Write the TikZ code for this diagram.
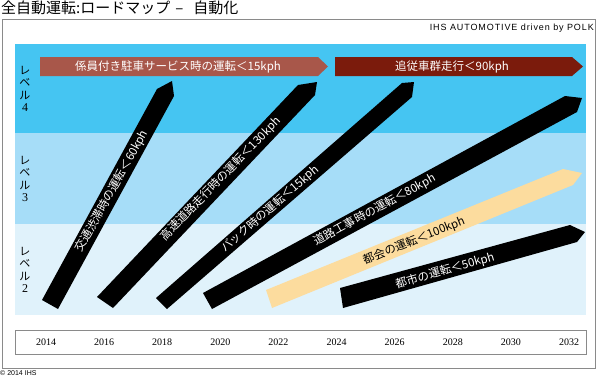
\documentclass[tikz,border=0pt]{standalone}
\usepackage{fontspec}
\setmainfont{Noto Sans CJK JP}
\newfontfamily\serifd{Liberation Serif}
\newfontfamily\ihsfont[LetterSpace=10]{Liberation Sans}
\newfontfamily\cpyfont{Liberation Sans}
\definecolor{lvfour}{HTML}{45C5F2}
\definecolor{lvthree}{HTML}{A6DDF8}
\definecolor{lvtwo}{HTML}{E0F2FB}
\definecolor{brick}{HTML}{A8574A}
\definecolor{maroon}{HTML}{7B1B0C}
\definecolor{tan}{HTML}{FCDC9E}
\definecolor{framegray}{HTML}{8A8A8A}
\tikzset{
  lbl/.style={text=white, font=\fontsize{11.5}{11.5}\selectfont, inner sep=0pt},
  dlbl/.style={text=black, font=\fontsize{11.5}{11.5}\selectfont, inner sep=0pt},
  yr/.style={font=\serifd\fontsize{10}{10}\selectfont, inner sep=0pt},
  lvl/.style={align=center, font=\fontsize{11}{12.5}\selectfont, inner sep=0pt},
  arrowband/.style={fill=black},
}
\begin{document}
\begin{tikzpicture}[x=1pt,y=-1pt]
\useasboundingbox (0,0) rectangle (600,378);
\fill[white] (0,0) rectangle (600,378);
% title
\node[anchor=west, inner sep=0pt, font=\fontsize{15}{15}\selectfont] (title) at (1,8) {全自動運転:ロードマップ\hspace{5pt}–\hspace{10pt}自動化};
% outer frame
\draw[framegray, line width=0.9pt] (2,19) rectangle (595,368);
\node[anchor=east, inner sep=0pt, font=\ihsfont\fontsize{9}{9}\selectfont] (ihs) at (594,28) {IHS AUTOMOTIVE driven by POLK};
% bands
\fill[lvfour] (15,44) rectangle (586,133);
\fill[lvthree] (15,133) rectangle (586,224);
\fill[lvtwo] (15,224) rectangle (586,315);
% level labels
\node[lvl] (l4) at (25,89) {レ\\ベ\\ル\\{\serifd\fontsize{12}{12.5}\selectfont 4}};
\node[lvl] (l3) at (25,179) {レ\\ベ\\ル\\{\serifd\fontsize{12}{12.5}\selectfont 3}};
\node[lvl] (l2) at (25,270) {レ\\ベ\\ル\\{\serifd\fontsize{12}{12.5}\selectfont 2}};
% top horizontal arrows
\fill[brick] (40,57) -- (318,57) -- (328,66.5) -- (318,76) -- (40,76) -- cycle;
\node[lbl] (b1) at (178,67) {係員付き駐車サービス時の運転＜15kph};
\fill[maroon] (335,57) -- (572,57) -- (583,66.5) -- (572,76) -- (335,76) -- cycle;
\node[lbl] (b2) at (452,67) {追従車群走行＜90kph};
% diagonal arrows
\fill[arrowband] (42,300) -- (157,89) -- (172,81) -- (174,96) -- (58,309) -- cycle;
\node[lbl, rotate=61] (a1) at (112,191) {交通渋滞時の運転＜60kph};
\fill[arrowband] (97,297) -- (298,85) -- (317,82) -- (315,95) -- (113,308) -- cycle;
\node[lbl, rotate=46] (a2) at (221,179) {高速道路走行時の運転＜130kph};
\fill[arrowband] (156,298) -- (402,83) -- (414,82) -- (412,97) -- (167,309) -- cycle;
\node[lbl, rotate=41] (a3) at (270,209) {バック時の運転＜15kph};
\fill[arrowband] (203,293) -- (565,96) -- (582,98) -- (577,112) -- (212,309) -- cycle;
\node[lbl, rotate=28.5] (a4) at (375,210) {道路工事時の運転＜80kph};
\fill[tan] (266,290) -- (563,169) -- (582,173) -- (573,185) -- (272,308) -- cycle;
\node[dlbl, rotate=22] (a5) at (414,241) {都会の運転＜100kph};
\fill[arrowband] (340,288) -- (570,225) -- (585,232) -- (577,242) -- (343,308) -- cycle;
\node[lbl, rotate=16] (a6) at (445,271) {都市の運転＜50kph};
% timeline
\draw[framegray, line width=0.9pt, fill=white] (15,330) rectangle (586,354);
\foreach \y [count=\i from 0] in {2014,2016,2018,2020,2022,2024,2026,2028,2030,2032}{
  \node[yr] (y\y) at ({46+58.12*\i},342) {\y};
}
\node[anchor=west, inner sep=0pt, font=\cpyfont\fontsize{7}{7}\selectfont] (cpy) at (0,373.5) {© 2014 IHS};
\end{tikzpicture}
\end{document}
